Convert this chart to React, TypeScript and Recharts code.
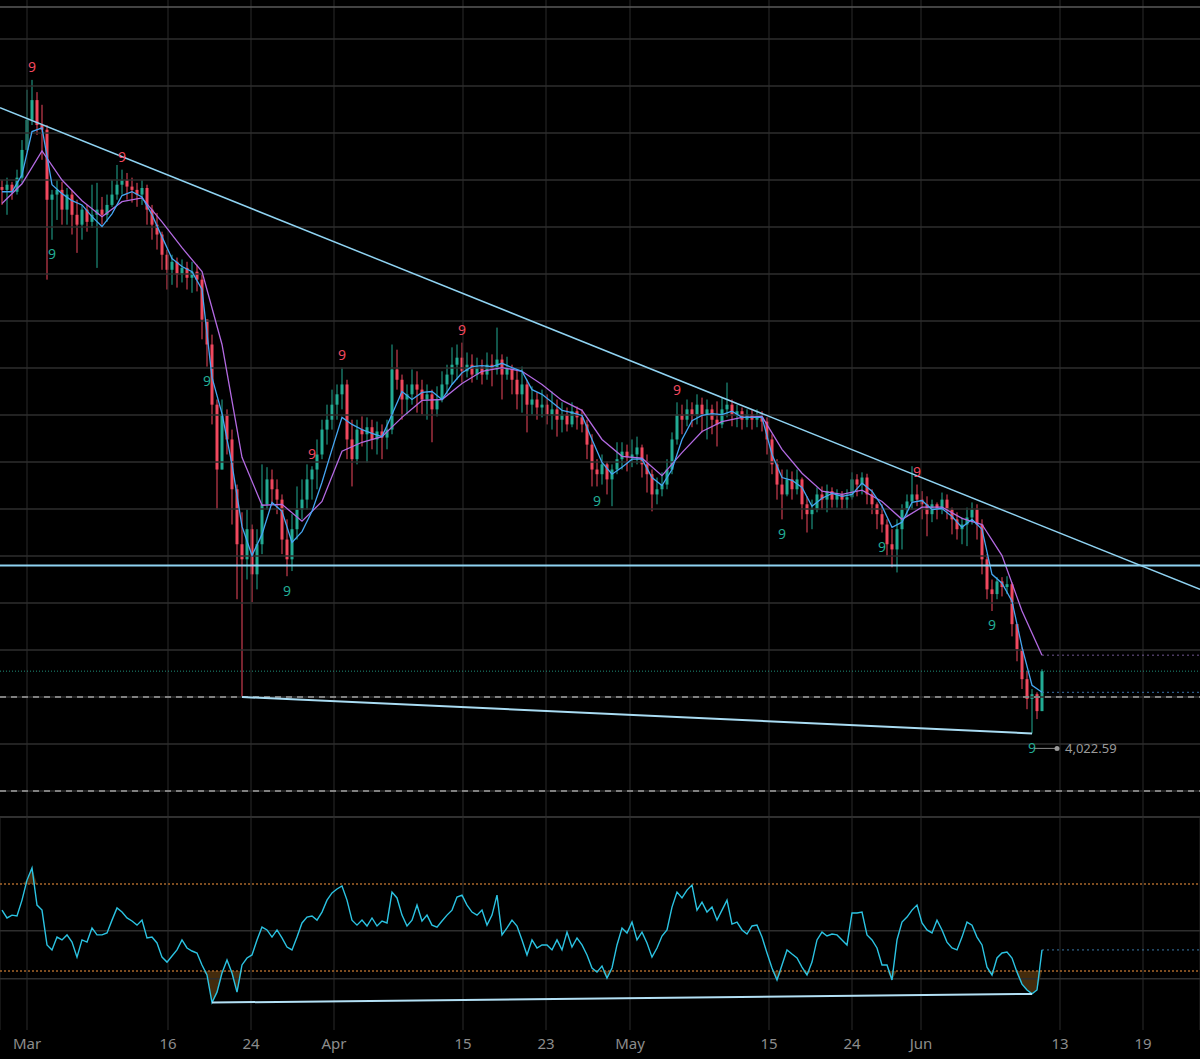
import React from 'react';
import {
  ComposedChart,
  Bar,
  Line,
  Area,
  Scatter,
  XAxis,
  YAxis,
  CartesianGrid,
  ReferenceLine,
} from 'recharts';

// bar index axis: one slot per candle, labels sit on the date ticks
const tickIdx = [5, 33.2, 49.8, 66.4, 92.2, 108.8, 125.6, 153.4, 170, 183.8, 211.6, 228.2];
const tickLabels = ['Mar', '16', '24', 'Apr', '15', '23', 'May', '15', '24', 'Jun', '13', '19'];

const firstOpen = 5185;
const closes = [
  5179, 5190, 5175, 5205, 5264, 5328, 5370, 5317, 5307, 5158,
  5169, 5179, 5137, 5169, 5126, 5105, 5137, 5111, 5126, 5137,
  5126, 5147, 5169, 5190, 5200, 5186, 5179, 5169, 5183, 5137,
  5105, 5084, 5041, 5009, 5026, 4999, 5013, 4992, 5005, 4988,
  4903, 4850, 4722, 4584, 4701, 4648, 4542, 4425, 4393, 4457,
  4361, 4425, 4510, 4563, 4542, 4520, 4435, 4393, 4457, 4499,
  4520, 4563, 4584, 4616, 4669, 4690, 4722, 4744, 4765, 4648,
  4606, 4669, 4659, 4674, 4648, 4665, 4652, 4669, 4797, 4775,
  4733, 4744, 4765, 4754, 4733, 4744, 4712, 4733, 4765, 4786,
  4807, 4822, 4793, 4807, 4786, 4801, 4786, 4807, 4797, 4818,
  4786, 4801, 4775, 4744, 4765, 4722, 4733, 4716, 4722, 4701,
  4712, 4690, 4701, 4680, 4708, 4695, 4680, 4637, 4584, 4574,
  4595, 4563, 4584, 4606, 4622, 4610, 4616, 4631, 4595, 4574,
  4531, 4542, 4552, 4584, 4648, 4701, 4690, 4712, 4701, 4722,
  4701, 4712, 4690, 4680, 4712, 4722, 4701, 4708, 4690, 4701,
  4690, 4695, 4686, 4648, 4595, 4552, 4531, 4563, 4542, 4563,
  4510, 4489, 4499, 4531, 4520, 4538, 4520, 4531, 4520, 4525,
  4563, 4552, 4567, 4531, 4510, 4489, 4467, 4425, 4414, 4457,
  4499, 4516, 4531, 4520, 4510, 4489, 4510, 4499, 4520, 4499,
  4478, 4457, 4467, 4482, 4499, 4467, 4393, 4329, 4319, 4346,
  4334, 4340, 4255, 4202, 4138, 4096, 4106, 4070, 4155,
];
const highs = [
  5200, 5205, 5196, 5222, 5285, 5392, 5413, 5387, 5360, 5317,
  5179, 5200, 5196, 5183, 5179, 5158, 5147, 5147, 5190, 5194,
  5164, 5169, 5200, 5232, 5222, 5215, 5205, 5194, 5200, 5190,
  5147, 5130, 5090, 5052, 5041, 5035, 5031, 5026, 5026, 5020,
  4999, 4903, 4871, 4733, 4733, 4712, 4669, 4552, 4493, 4499,
  4467, 4457, 4595, 4589, 4584, 4563, 4531, 4478, 4489, 4548,
  4563, 4595, 4591, 4648, 4690, 4722, 4754, 4765, 4801, 4775,
  4690, 4690, 4697, 4695, 4690, 4686, 4680, 4690, 4850, 4839,
  4786, 4765, 4797, 4793, 4775, 4765, 4754, 4761, 4793, 4807,
  4844, 4850, 4854, 4833, 4829, 4822, 4818, 4833, 4829, 4886,
  4829, 4824, 4807, 4797, 4803, 4775, 4761, 4748, 4754, 4744,
  4750, 4733, 4727, 4716, 4727, 4718, 4712, 4690, 4659, 4606,
  4616, 4601, 4595, 4642, 4642, 4637, 4648, 4654, 4637, 4616,
  4584, 4567, 4578, 4606, 4663, 4727, 4722, 4733, 4727, 4744,
  4737, 4733, 4722, 4729, 4737, 4769, 4733, 4722, 4716, 4712,
  4712, 4712, 4708, 4695, 4659, 4606, 4584, 4584, 4580, 4584,
  4567, 4527, 4520, 4546, 4548, 4552, 4546, 4542, 4538, 4542,
  4578, 4574, 4578, 4575, 4542, 4514, 4510, 4478, 4457, 4478,
  4510, 4531, 4591, 4552, 4538, 4527, 4520, 4514, 4535, 4531,
  4503, 4493, 4482, 4503, 4514, 4510, 4478, 4404, 4350, 4355,
  4355, 4357, 4344, 4255, 4206, 4155, 4117, 4110, 4159,
];
const lows = [
  5147, 5126, 5158, 5169, 5194, 5260, 5317, 5296, 5243, 4988,
  5073, 5115, 5105, 5105, 5084, 5045, 5073, 5090, 5098, 5013,
  5105, 5111, 5143, 5158, 5169, 5158, 5152, 5143, 5147, 5105,
  5073, 5052, 5009, 4967, 4977, 4971, 4982, 4967, 4960, 4963,
  4861, 4803, 4680, 4499, 4584, 4616, 4467, 4308, 4100, 4350,
  4302, 4329, 4404, 4499, 4510, 4489, 4404, 4357, 4368, 4435,
  4478, 4499, 4520, 4542, 4606, 4637, 4669, 4690, 4712, 4606,
  4548, 4595, 4633, 4599, 4627, 4616, 4606, 4627, 4659, 4754,
  4690, 4701, 4722, 4705, 4701, 4690, 4642, 4697, 4727, 4744,
  4765, 4775, 4769, 4780, 4769, 4775, 4765, 4775, 4761, 4786,
  4733, 4775, 4744, 4712, 4705, 4663, 4701, 4690, 4695, 4680,
  4669, 4654, 4663, 4665, 4674, 4669, 4663, 4606, 4548, 4548,
  4552, 4531, 4506, 4574, 4584, 4580, 4589, 4595, 4567, 4535,
  4495, 4510, 4527, 4542, 4574, 4637, 4659, 4676, 4674, 4680,
  4663, 4648, 4659, 4633, 4672, 4695, 4676, 4674, 4669, 4674,
  4669, 4674, 4665, 4616, 4574, 4520, 4478, 4527, 4520, 4531,
  4478, 4450, 4457, 4493, 4499, 4493, 4503, 4503, 4499, 4499,
  4520, 4527, 4531, 4510, 4489, 4457, 4450, 4399, 4376, 4365,
  4414, 4484, 4499, 4506, 4478, 4442, 4472, 4478, 4489, 4478,
  4446, 4435, 4425, 4421, 4467, 4435, 4361, 4308, 4283, 4308,
  4314, 4319, 4229, 4176, 4117, 4074, 4022.59, 4053, 4070,
];

// fast MA, one value every 2 bars
const maFast = [
  5175, 5175, 5211, 5303, 5311, 5190, 5171, 5156, 5147, 5122,
  5101, 5128, 5167, 5175, 5164, 5126, 5079, 5033, 5016, 5005,
  4967, 4780, 4703, 4595, 4463, 4401, 4446, 4514, 4495, 4429,
  4452, 4495, 4557, 4627, 4695, 4680, 4669, 4661, 4654, 4701,
  4750, 4733, 4748, 4750, 4733, 4765, 4790, 4803, 4805, 4803,
  4810, 4801, 4793, 4754, 4744, 4727, 4710, 4705, 4699, 4648,
  4599, 4574, 4589, 4606, 4606, 4567, 4550, 4584, 4648, 4688,
  4699, 4703, 4701, 4708, 4695, 4695, 4695, 4616, 4567, 4561,
  4546, 4506, 4523, 4533, 4527, 4531, 4555, 4538, 4506, 4461,
  4472, 4514, 4518, 4499, 4501, 4484, 4461, 4478, 4457, 4361,
  4342, 4304, 4206, 4125, 4110,
];
// slow MA, one value every 4 bars
const maSlow = [
  5150, 5192, 5262, 5200, 5156, 5122, 5154, 5162, 5111, 5056,
  5005, 4850, 4610, 4508, 4510, 4474, 4516, 4623, 4642, 4654,
  4695, 4731, 4733, 4767, 4793, 4801, 4793, 4765, 4731, 4710,
  4648, 4612, 4608, 4571, 4620, 4665, 4686, 4695, 4697, 4627,
  4576, 4538, 4531, 4540, 4516, 4478, 4504, 4504, 4480, 4467,
  4401, 4283, 4189,
];

const rsi = [
  58, 54.4, 55.7, 55.3, 62.6, 71.8, 77.4, 60.3, 58, 42,
  39.7, 45.6, 44.3, 46.6, 43.3, 36.4, 44.3, 43.3, 49.8, 46.6,
  46.6, 47.5, 53.4, 59, 57.1, 54.4, 53, 51.1, 53.4, 45.2,
  45.6, 42.9, 36.4, 34.1, 36.9, 39.7, 44.3, 40.6, 39.2, 38.3,
  32.8, 28.2, 15.5, 20.3, 29.1, 35.1, 29.1, 20.3, 32.8, 36,
  37.4, 44.3, 50.2, 48.9, 45.6, 48.9, 45.2, 41, 39.7, 45.6,
  52.1, 54.8, 55.3, 53.4, 57.1, 62.6, 65.9, 67.7, 69.1, 62.6,
  53.4, 51.1, 53.4, 50.7, 54.4, 50.7, 53, 52.1, 66.3, 63.6,
  55.7, 50.7, 53.4, 60.3, 53, 55.7, 51.1, 50.2, 53, 55.7,
  58, 64, 64.9, 60.3, 57.1, 55.7, 58, 51.1, 55.7, 64.9,
  46.6, 49.8, 53.4, 50.7, 44.3, 37.4, 44.3, 40.6, 42, 42,
  39.7, 44.3, 39.7, 47.9, 41, 45.2, 42, 37.4, 31.4, 29.5,
  32.3, 26.8, 31.4, 42, 49.8, 47.5, 52.5, 44.3, 47.9, 42.9,
  36.4, 40.6, 46.1, 48.9, 59.4, 66.3, 63.6, 67.2, 69.5, 58,
  61.7, 57.1, 59.4, 53.4, 58, 62.6, 51.6, 52.5, 48.9, 47,
  50.7, 51.1, 45.6, 38.3, 31.4, 25.9, 32.8, 39.7, 37.8, 36,
  31.8, 28.2, 34.1, 44.3, 47.9, 46.1, 47, 46.6, 44.3, 42,
  56.7, 56.7, 57.1, 46.6, 44.3, 40.6, 32.8, 32.8, 25.9, 44.3,
  52.5, 54.8, 58, 60.3, 52.1, 48.9, 47.5, 53.4, 48.9, 43.3,
  40.6, 39.7, 45.6, 52.5, 51.1, 45.6, 42, 31.8, 28.2, 36,
  38.3, 38.7, 36, 29.5, 24, 21.3, 19.5, 21.3, 39.7,
];

// TD sequential 9 counts
const nineUp = [6, 24, 62, 68, 92, 135, 183];
const nineDown = [10, 41, 57, 119, 156, 176, 198, 206];

const priceTicks = [3900, 4000, 4100, 4200, 4300, 4400, 4500, 4600, 4700, 4800, 4900, 5000, 5100, 5200, 5300, 5400, 5500];
const rsiGrid = [48.5, 26.5];
const supportLevel = 4380;
const dashedLevels = [4100, 3900];
const topBorder = 5568;
const upperTrend = [
  { i: -0.4, p: 5354 },
  { i: 239.6, p: 4329 },
];
const trendFrom = 48;
const trendTo = 206;
const rsiTrendFrom = 42;
const rsiTrendTo = 206;

const X_DOMAIN: [number, number] = [-0.4, 239.6];
const GREEN = '#22ab94';
const RED = '#f0485e';
const TREND = '#8fd3f2';
const GRID = '#2a2a2a';

const candles = closes.map((c, i) => ({
  i,
  o: i === 0 ? firstOpen : closes[i - 1],
  c,
  h: highs[i],
  l: lows[i],
  range: [lows[i], highs[i]],
}));
const fastData = maFast.map((v, k) => ({ i: k * 2, v }));
const slowData = maSlow.map((v, k) => ({ i: k * 4, v }));
const rsiData = rsi.map((v, i) => ({ i, v }));
const upPts = nineUp.map((i) => ({ i, p: highs[i] }));
const downPts = nineDown.map((i) => ({ i, p: lows[i] }));
const lastIdx = closes.length - 1;
const lastClose = closes[lastIdx];
const lowPt = [{ i: trendTo, p: lows[trendTo] }];

function Candle(props: any) {
  const { x, y, width, height, payload } = props;
  if (!payload || x == null) return null;
  const { o, c, h, l } = payload;
  const top = Math.min(y, y + height);
  const span = Math.abs(height);
  const k = h - l > 0 ? span / (h - l) : 0;
  const cx = x + width / 2;
  const yo = top + (h - o) * k;
  const yc = top + (h - c) * k;
  const color = c >= o ? GREEN : RED;
  return (
    <g>
      <line x1={cx} x2={cx} y1={top} y2={top + span} stroke={color} strokeWidth={1} />
      <rect x={cx - 1.5} y={Math.min(yo, yc)} width={3} height={Math.max(Math.abs(yo - yc), 1)} fill={color} />
    </g>
  );
}

function NineAbove(props: any) {
  const { cx, cy } = props;
  return (
    <text x={cx} y={cy - 13} fill={RED} fontSize={14} textAnchor="middle" dominantBaseline="central">
      9
    </text>
  );
}

function NineBelow(props: any) {
  const { cx, cy } = props;
  return (
    <text x={cx} y={cy + 14} fill={GREEN} fontSize={14} textAnchor="middle" dominantBaseline="central">
      9
    </text>
  );
}

function LowLabel(props: any) {
  const { cx, cy, payload } = props;
  const yy = cy + 15;
  return (
    <g>
      <line x1={cx + 2} x2={cx + 25} y1={yy} y2={yy} stroke="#8a8a8a" strokeWidth={1} />
      <circle cx={cx + 25} cy={yy} r={2.5} fill="#9a9a9a" />
      <text x={cx + 33} y={yy} fill="#9a9a9a" fontSize={13} dominantBaseline="central">
        {payload.p.toLocaleString('en-US', { minimumFractionDigits: 2, maximumFractionDigits: 2 })}
      </text>
    </g>
  );
}

export default function App() {
  return (
    <div
      style={{
        position: 'absolute',
        left: 0,
        top: 0,
        width: 1200,
        height: 1059,
        background: '#000',
        overflow: 'hidden',
        fontFamily: '"Noto Sans", sans-serif',
      }}
    >
      <div style={{ position: 'absolute', left: 0, top: 0 }}>
        <ComposedChart width={1200} height={817} data={candles} margin={{ top: 0, right: 0, bottom: 0, left: 0 }}>
          <XAxis
            type="number"
            dataKey="i"
            domain={X_DOMAIN}
            ticks={tickIdx}
            allowDataOverflow
            height={0}
            tick={false}
            axisLine={false}
            tickLine={false}
          />
          <YAxis
            type="number"
            domain={[3844.7, 5583]}
            ticks={priceTicks}
            allowDataOverflow
            width={0}
            tick={false}
            axisLine={false}
            tickLine={false}
          />
          {tickIdx.map((t) => (
            <ReferenceLine key={`v${t}`} x={t} stroke={GRID} />
          ))}
          {priceTicks.map((p) => (
            <ReferenceLine key={`g${p}`} y={p} stroke="#2e2e2e" strokeWidth={1.5} />
          ))}
          <ReferenceLine y={topBorder} stroke="#5a5a5a" strokeWidth={1.5} />
          {dashedLevels.map((p) => (
            <ReferenceLine key={p} y={p} stroke="#a0a0a0" strokeWidth={1.5} strokeDasharray="6 5" />
          ))}
          <ReferenceLine y={lastClose} stroke="#1f8f7a" strokeDasharray="1 2" />
          <ReferenceLine
            segment={[
              { x: lastIdx, y: maSlow[maSlow.length - 1] },
              { x: X_DOMAIN[1], y: maSlow[maSlow.length - 1] },
            ]}
            stroke="#6e5590"
            strokeDasharray="2 3"
          />
          <ReferenceLine
            segment={[
              { x: lastIdx, y: maFast[maFast.length - 1] },
              { x: X_DOMAIN[1], y: maFast[maFast.length - 1] },
            ]}
            stroke="#3a70a8"
            strokeDasharray="2 3"
          />
          <Bar dataKey="range" barSize={3} shape={Candle} isAnimationActive={false} />
          <Line
            data={slowData}
            dataKey="v"
            stroke="#b36ae2"
            strokeWidth={1.3}
            dot={false}
            activeDot={false}
            isAnimationActive={false}
          />
          <Line
            data={fastData}
            dataKey="v"
            stroke="#45a6f2"
            strokeWidth={1.3}
            dot={false}
            activeDot={false}
            isAnimationActive={false}
          />
          <ReferenceLine y={supportLevel} stroke={TREND} strokeWidth={2} />
          <ReferenceLine
            segment={[
              { x: upperTrend[0].i, y: upperTrend[0].p },
              { x: upperTrend[1].i, y: upperTrend[1].p },
            ]}
            stroke={TREND}
            strokeWidth={1.5}
          />
          <ReferenceLine
            segment={[
              { x: trendFrom, y: lows[trendFrom] },
              { x: trendTo, y: lows[trendTo] },
            ]}
            stroke="#a9dcf3"
            strokeWidth={2}
          />
          <Scatter data={upPts} dataKey="p" shape={NineAbove} isAnimationActive={false} />
          <Scatter data={downPts} dataKey="p" shape={NineBelow} isAnimationActive={false} />
          <Scatter data={lowPt} dataKey="p" shape={LowLabel} isAnimationActive={false} />
        </ComposedChart>
      </div>
      <div style={{ position: 'absolute', left: 0, top: 816, width: 1200, height: 2, background: '#303030' }} />
      <div style={{ position: 'absolute', left: 0, top: 817 }}>
        <ComposedChart width={1200} height={242} data={rsiData} margin={{ top: 0, right: 0, bottom: 0, left: 0 }}>
          <CartesianGrid stroke={GRID} horizontal={false} />
          <XAxis
            type="number"
            dataKey="i"
            domain={X_DOMAIN}
            ticks={tickIdx}
            interval={0}
            allowDataOverflow
            height={29}
            tickFormatter={(_v: number, idx: number) => tickLabels[idx]}
            tick={{ fill: '#8c8c8c', fontSize: 15 }}
            axisLine={false}
            tickLine={false}
          />
          <YAxis type="number" domain={[2.9, 100.8]} allowDataOverflow width={0} tick={false} axisLine={false} tickLine={false} />
          {rsiGrid.map((v) => (
            <ReferenceLine key={v} y={v} stroke="#2e2e2e" strokeWidth={1.5} />
          ))}
          <ReferenceLine y={70} stroke="#a8672b" strokeWidth={1.5} strokeDasharray="2 2" />
          <ReferenceLine y={30} stroke="#a8672b" strokeWidth={1.5} strokeDasharray="2 2" />
          <Area
            dataKey={(d: any) => [Math.min(d.v, 30), 30]}
            stroke="none"
            fill="#5a3912"
            fillOpacity={0.75}
            activeDot={false}
            isAnimationActive={false}
          />
          <Area
            dataKey={(d: any) => [70, Math.max(d.v, 70)]}
            stroke="none"
            fill="#5a3912"
            fillOpacity={0.75}
            activeDot={false}
            isAnimationActive={false}
          />
          <ReferenceLine
            segment={[
              { x: lastIdx, y: rsi[lastIdx] },
              { x: X_DOMAIN[1], y: rsi[lastIdx] },
            ]}
            stroke="#3a78a8"
            strokeDasharray="2 3"
          />
          <Line dataKey="v" stroke="#2bc3e2" strokeWidth={1.4} dot={false} activeDot={false} isAnimationActive={false} />
          <ReferenceLine
            segment={[
              { x: rsiTrendFrom, y: rsi[rsiTrendFrom] },
              { x: rsiTrendTo, y: rsi[rsiTrendTo] },
            ]}
            stroke="#b3e0f5"
            strokeWidth={2}
          />
        </ComposedChart>
      </div>
    </div>
  );
}
